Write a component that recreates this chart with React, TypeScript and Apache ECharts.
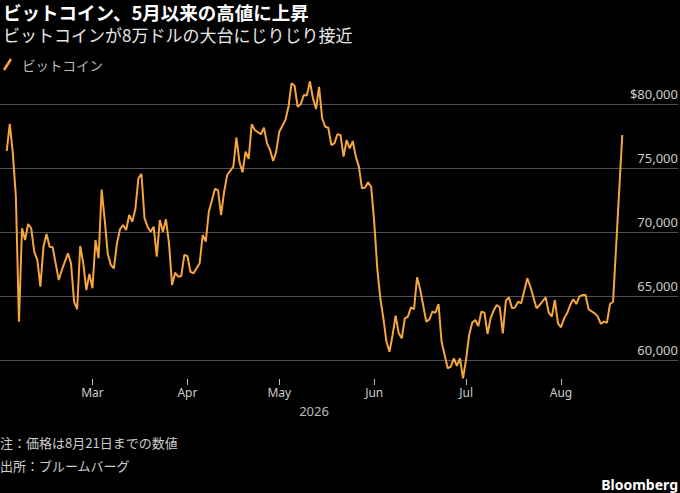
import React, { useEffect, useRef } from "react";
import * as echarts from "echarts";

const YEAR = 2026;

// 日付 (MM-DD) と終値 (USD)
const dates: string[] = [
  "02-01", "02-02", "02-03", "02-04", "02-05", "02-06", "02-07", "02-08", "02-09", "02-10",
  "02-11", "02-12", "02-13", "02-14", "02-15", "02-16", "02-18", "02-19", "02-21", "02-22",
  "02-23", "02-24", "02-25", "02-26", "02-27", "02-28",
  "03-01", "03-02", "03-03", "03-04", "03-05", "03-06", "03-07", "03-08", "03-09", "03-10",
  "03-11", "03-12", "03-13", "03-14", "03-15", "03-16", "03-17", "03-18", "03-19", "03-20",
  "03-21", "03-22", "03-23", "03-24", "03-25", "03-26", "03-27", "03-28", "03-29", "03-30",
  "03-31",
  "04-01", "04-02", "04-03", "04-05", "04-06", "04-07", "04-08", "04-10", "04-11", "04-12",
  "04-13", "04-14", "04-16", "04-17", "04-18", "04-19", "04-20", "04-21", "04-22", "04-23",
  "04-25", "04-26", "04-27", "04-28", "04-29", "04-30",
  "05-01", "05-03", "05-04", "05-05", "05-06", "05-07", "05-08", "05-09", "05-10", "05-11",
  "05-12", "05-13", "05-14", "05-15", "05-16", "05-17", "05-18", "05-19", "05-20", "05-21",
  "05-22", "05-23", "05-24", "05-25", "05-26", "05-27", "05-28", "05-29", "05-30", "05-31",
  "06-01", "06-02", "06-03", "06-04", "06-05", "06-06", "06-07", "06-08", "06-09", "06-10",
  "06-11", "06-12", "06-13", "06-14", "06-15", "06-16", "06-18", "06-19", "06-20", "06-21",
  "06-22", "06-23", "06-25", "06-26", "06-27", "06-28", "06-29", "06-30",
  "07-01", "07-02", "07-03", "07-04", "07-05", "07-06", "07-07", "07-08", "07-09", "07-10",
  "07-11", "07-12", "07-13", "07-14", "07-15", "07-16", "07-17", "07-18", "07-19", "07-21",
  "07-22", "07-24", "07-25", "07-27", "07-28", "07-29", "07-30", "07-31",
  "08-01", "08-02", "08-03", "08-04", "08-05", "08-06", "08-07", "08-08", "08-09", "08-10",
  "08-12", "08-13", "08-14", "08-15", "08-16", "08-17", "08-18", "08-21",
];

const prices: number[] = [
  76400, 78500, 76200, 72800, 63050, 70350, 69430, 70680, 70350, 68500,
  67870, 65780, 68900, 69900, 68900, 68860, 66300, 67090, 68390, 67610,
  64610, 64020, 68960, 67610, 65520, 66770,
  65660, 69430, 68000, 73375, 70990, 68340, 67480, 67220, 69170, 70270,
  70600, 70210, 71380, 70860, 71830, 74250, 74590, 71125, 70470, 70080,
  70470, 68125, 70990, 70080, 71050, 69170, 65910, 66875, 66560, 66620,
  68260,
  68180, 66950, 66830, 67610, 69820, 69310, 71640, 73410, 73330, 71380,
  73200, 74510, 75160, 77420, 75550, 74720, 76330, 75760, 78470, 78020,
  77690, 78200, 76980, 76460, 75600, 76330,
  77890, 78800, 79840, 81670, 81480, 79840, 80030, 80760, 80720, 81810,
  80500, 79660, 81400, 78940, 78280, 78200, 76850, 76980, 77690, 77630,
  75940, 77240, 76590, 77160, 75940, 75160, 73470, 73520, 73940, 73590,
  70860, 67220, 64875, 63310, 61480, 60700, 62010, 63520, 62140, 61750,
  63310, 63440, 64170, 64020, 66520, 65580, 63050, 63230, 63830, 63750,
  64430, 61480, 59410, 59530, 60190, 59590, 60190, 58625,
  60110, 62010, 62970, 63180, 62710, 63830, 63750, 62090, 63310, 63910,
  64350, 64170, 62140, 64690, 64950, 64090, 64170, 64610, 64480, 66440,
  65780, 64090, 64350, 64950, 63750, 63440, 64740, 62920,
  62610, 63310, 63700, 64350, 64800, 64430, 65000, 65130, 65130, 64020,
  63700, 63440, 62870, 63050, 62970, 64430, 64610, 77630,
];

const monthTickDates: string[] = ["03-01", "04-01", "05-01", "06-01", "07-01", "08-01"];
const monthLabels: string[] = ["Mar", "Apr", "May", "Jun", "Jul", "Aug"];
const yTickValues: number[] = [60000, 65000, 70000, 75000, 80000];
const yTickLabels: string[] = ["60,000", "65,000", "70,000", "75,000", "$80,000"];

const TITLE = "ビットコイン、5月以来の高値に上昇";
const SUBTITLE = "ビットコインが8万ドルの大台にじりじり接近";
const SERIES_NAME = "ビットコイン";
const YEAR_LABEL = "2026";
const NOTE = "注：価格は8月21日までの数値";
const SOURCE = "出所：ブルームバーグ";
const BRAND = "Bloomberg";

const ORANGE = "#F7A53D";
const JP = "'Noto Sans CJK JP', 'Noto Sans', sans-serif";
const LATIN = "'Noto Sans', 'Noto Sans CJK JP', sans-serif";

const DAY = 86400000;
const ORIGIN = Date.UTC(YEAR, 1, 1);
// days since Feb 1
const dayOf = (md: string) =>
  (Date.UTC(YEAR, Number(md.slice(0, 2)) - 1, Number(md.slice(3, 5))) - ORIGIN) / DAY;

export default function App() {
  const ref = useRef<HTMLDivElement>(null);

  useEffect(() => {
    if (!ref.current) return;
    const chart = echarts.init(ref.current, null, { renderer: "svg" });
    const tickDays = monthTickDates.map(dayOf);
    const data = dates.map((d, i) => [dayOf(d), prices[i]]);

    chart.setOption({
      animation: false,
      backgroundColor: "#000",
      grid: { left: 0, right: 2, top: 40.7, bottom: 68.3, containLabel: false, outerBoundsMode: "none" },
      xAxis: {
        type: "value",
        min: -2.19,
        max: 219.2,
        offset: -45.7,
        axisLine: { show: false },
        splitLine: { show: false },
        axisTick: {
          show: true,
          customValues: tickDays,
          length: 6,
          lineStyle: { color: "#bbb", width: 1 },
        },
        axisLabel: {
          customValues: tickDays,
          color: "#ccc",
          fontSize: 12,
          fontFamily: LATIN,
          margin: 7,
          formatter: (v: number) => {
            let best = 0;
            tickDays.forEach((t, i) => {
              if (Math.abs(t - v) < Math.abs(tickDays[best] - v)) best = i;
            });
            return monthLabels[best];
          },
        },
      },
      yAxis: {
        type: "value",
        position: "right",
        min: 55000,
        max: 85000,
        interval: 5000,
        axisLine: { show: false },
        axisTick: { show: false },
        splitLine: {
          show: true,
          lineStyle: {
            color: ["rgba(0,0,0,0)", "#505050", "#505050", "#505050", "#505050", "#505050", "rgba(0,0,0,0)"],
            width: 1,
          },
        },
        axisLabel: {
          inside: true,
          margin: 0,
          color: "#ccc",
          fontSize: 13,
          fontFamily: LATIN,
          verticalAlign: "bottom",
          padding: [0, 0, 4, 0],
          formatter: (v: number) => {
            const i = yTickValues.indexOf(v);
            return i >= 0 ? yTickLabels[i] : "";
          },
        },
      },
      series: [
        {
          name: SERIES_NAME,
          type: "line",
          data,
          showSymbol: false,
          symbol: "none",
          clip: false,
          lineStyle: { color: ORANGE, width: 2 },
          itemStyle: { color: ORANGE },
        },
      ],
      graphic: [
        {
          type: "text",
          x: 3,
          y: 12,
          style: { text: TITLE, fill: "#fff", font: `bold 18.5px ${JP}`, textAlign: "left", align: "left", verticalAlign: "middle", textVerticalAlign: "middle" },
        },
        {
          type: "text",
          x: 3,
          y: 34.5,
          style: { text: SUBTITLE, fill: "#e6e6e6", font: `17px ${JP}`, textAlign: "left", align: "left", verticalAlign: "middle", textVerticalAlign: "middle" },
        },
        {
          type: "line",
          shape: { x1: 4, y1: 70, x2: 11, y2: 59 },
          style: { stroke: ORANGE, lineWidth: 2.5 },
        },
        {
          type: "text",
          x: 22,
          y: 64.5,
          style: { text: SERIES_NAME, fill: "#bbb", font: `13.5px ${JP}`, textAlign: "left", align: "left", verticalAlign: "middle", textVerticalAlign: "middle" },
        },
        {
          type: "text",
          x: 314,
          y: 411,
          style: { text: YEAR_LABEL, fill: "#bbb", font: `13px ${LATIN}`, textAlign: "center", align: "center", verticalAlign: "middle", textVerticalAlign: "middle" },
        },
        {
          type: "text",
          x: 0,
          y: 442,
          style: { text: NOTE, fill: "#ccc", font: `13px ${JP}`, textAlign: "left", align: "left", verticalAlign: "middle", textVerticalAlign: "middle" },
        },
        {
          type: "text",
          x: 0,
          y: 465,
          style: { text: SOURCE, fill: "#ccc", font: `13px ${JP}`, textAlign: "left", align: "left", verticalAlign: "middle", textVerticalAlign: "middle" },
        },
        {
          type: "text",
          x: 678,
          y: 484,
          style: { text: BRAND, fill: "#fff", font: `bold 14px ${LATIN}`, textAlign: "right", align: "right", verticalAlign: "middle", textVerticalAlign: "middle" },
        },
      ],
    });

    return () => chart.dispose();
  }, []);

  return (
    <div
      ref={ref}
      style={{ position: "absolute", left: 0, top: 0, width: 680, height: 493, background: "#000" }}
    />
  );
}
